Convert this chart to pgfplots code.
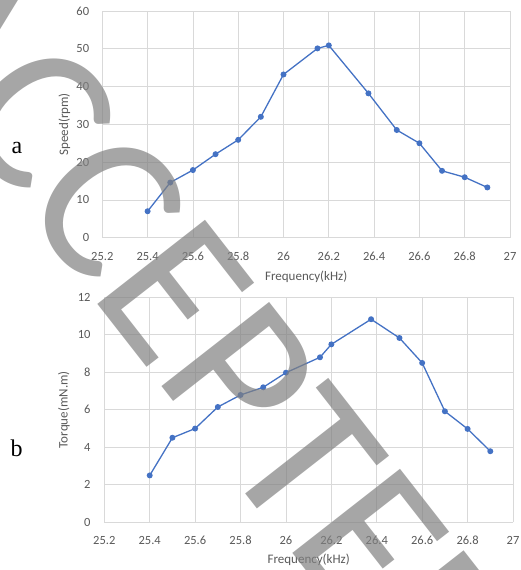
\documentclass[border=0pt]{standalone}
\usepackage{pgfplots}
\pgfplotsset{compat=1.18}
\usepackage{fontspec}
\setmainfont{Carlito}
\newfontfamily\serifA{Liberation Serif}
\newfontfamily\wmfont{Carlito}
\definecolor{exblue}{HTML}{4472C4}
\definecolor{txtgray}{HTML}{595959}
\definecolor{gridgray}{HTML}{D9D9D9}
\pgfplotsset{
  exstyle/.style={
    scale only axis,
    anchor=south west,
    axis line style={draw=none},
    tick style={draw=none},
    grid=major,
    major grid style={draw=gridgray, line width=0.8pt},
    xmin=25.2, xmax=27,
    xtick={25.2,25.4,25.6,25.8,26,26.2,26.4,26.6,26.8,27},
    /pgf/number format/assume math mode=true,
    ticklabel style={font=\fontsize{12.5}{12.5}\selectfont, text=txtgray, inner sep=0pt},
    xticklabel style={anchor=center},
    yticklabel style={anchor=east},
    label style={font=\fontsize{13}{13}\selectfont, text=txtgray, inner sep=0pt},
  },
  exline/.style={color=exblue, line width=1.3pt, mark=*, mark size=2.3pt, mark options={fill=exblue, draw=exblue}},
}
\begin{document}
\begin{tikzpicture}
\path[use as bounding box] (0pt,0pt) rectangle (520pt,570pt);
% (a) speed
\begin{axis}[exstyle,
  at={(102.3pt,332.3pt)}, width=407.7pt, height=226.7pt,
  ymin=0, ymax=60, ytick={0,10,20,30,40,50,60},
  xticklabel style={yshift=-19pt},
  yticklabel style={xshift=-13pt},
  xlabel={Frequency(kHz)}, ylabel={Speed(rpm)},
  xlabel style={at={(axis description cs:0.5,-0.172)}, anchor=center},
  ylabel style={at={(axis description cs:-0.093,0.5)}, anchor=center},
]
\addplot[exline] coordinates {
(25.4,7.0) (25.5,14.6) (25.6,17.9) (25.7,22.1) (25.8,25.9) (25.9,32.0)
(26.0,43.2) (26.15,50.1) (26.2,50.9) (26.375,38.2) (26.5,28.5) (26.6,25.0)
(26.7,17.7) (26.8,16.0) (26.9,13.3)
};
\end{axis}
% (b) torque
\begin{axis}[exstyle,
  at={(104.3pt,47.7pt)}, width=408.7pt, height=225pt,
  ymin=0, ymax=12, ytick={0,2,4,6,8,10,12},
  xticklabel style={yshift=-17.7pt},
  yticklabel style={xshift=-13.6pt},
  xlabel={Frequency(kHz)}, ylabel={Torque(mN.m)},
  xlabel style={at={(axis description cs:0.5,-0.168)}, anchor=center},
  ylabel style={at={(axis description cs:-0.0986,0.5)}, anchor=center},
]
\addplot[exline] coordinates {
(25.4,2.5) (25.5,4.51) (25.6,5.0) (25.7,6.15) (25.8,6.79) (25.9,7.2)
(26.0,7.98) (26.15,8.8) (26.2,9.49) (26.375,10.83) (26.5,9.83) (26.6,8.5)
(26.7,5.92) (26.8,4.98) (26.9,3.79)
};
\end{axis}
\node[font=\serifA\fontsize{24}{24}\selectfont] at (17pt,422pt) {a};
\node[font=\serifA\fontsize{24}{24}\selectfont] at (16.5pt,122pt) {b};
\node[font=\wmfont\fontsize{213}{213}\selectfont, text=black!50, text opacity=0.7, inner sep=0pt, rotate=-52] at (205pt,240pt) {ACCEPTED};
\end{tikzpicture}
\end{document}
